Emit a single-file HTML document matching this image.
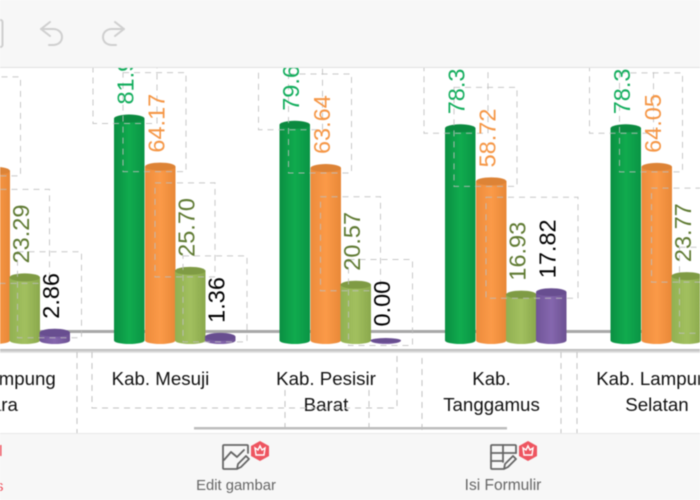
<!DOCTYPE html>
<html>
<head>
<meta charset="utf-8">
<title>Bar chart</title>
<style>
html,body{margin:0;padding:0;background:#fff;}
#stage{position:relative;width:700px;height:500px;overflow:hidden;background:#fff;}
svg{position:absolute;left:0;top:0;filter:blur(0.45px);}
text{font-family:"Liberation Sans",sans-serif;}
</style>
</head>
<body>
<div id="stage">
<svg id="chart" width="700" height="500" viewBox="0 0 700 500" xmlns="http://www.w3.org/2000/svg">
  <defs>
    <linearGradient id="g-green" x1="0" x2="1" y1="0" y2="0"><stop offset="0" stop-color="#0a8f42"/><stop offset=".5" stop-color="#10ab4e"/><stop offset="1" stop-color="#0a9445"/></linearGradient>
    <linearGradient id="g-orange" x1="0" x2="1" y1="0" y2="0"><stop offset="0" stop-color="#ec8b3c"/><stop offset=".5" stop-color="#fb9a48"/><stop offset="1" stop-color="#e88838"/></linearGradient>
    <linearGradient id="g-olive" x1="0" x2="1" y1="0" y2="0"><stop offset="0" stop-color="#91b052"/><stop offset=".5" stop-color="#a2c05f"/><stop offset="1" stop-color="#8aa84c"/></linearGradient>
    <linearGradient id="g-purple" x1="0" x2="1" y1="0" y2="0"><stop offset="0" stop-color="#705598"/><stop offset=".5" stop-color="#8567ae"/><stop offset="1" stop-color="#6c5192"/></linearGradient>
    <linearGradient id="g-floor" x1="0" x2="0" y1="0" y2="1"><stop offset="0" stop-color="#b4b4b4"/><stop offset="1" stop-color="#ececec"/></linearGradient>
  </defs>

  <g id="plot">
    <rect x="0" y="330" width="700" height="3" fill="#a8a8a8"/>
    <rect x="0" y="349" width="700" height="4" fill="url(#g-floor)"/>
  </g>
  <g id="bars"></g>
  <g id="boxes-over"></g>
  <g id="values"></g>
  <g id="cats"></g>

  <g fill="none" stroke="#c2c2c2" stroke-width="1" stroke-dasharray="6 5">
    <path d="M77 352V433"/>
    <path d="M92 352V408H397V352"/>
    <path d="M285 390V433"/>
    <path d="M369 390V433"/>
    <path d="M422 358V433"/>
    <path d="M561 352V433"/>
    <path d="M577 352V433"/>
  </g>
  <rect x="194" y="427" width="313" height="2.5" fill="#bdbdbd"/>

  <g>
    <rect x="0" y="0" width="700" height="67" fill="#f7f7f7"/>
    <rect x="0" y="67" width="700" height="1" fill="#e2e2e2"/>
    <rect x="-8" y="20" width="10.5" height="27" rx="2" fill="none" stroke="#cfcfcf" stroke-width="2"/>
    <g fill="none" stroke="#cfcfcf" stroke-width="2" stroke-linecap="round" stroke-linejoin="round">
      <path d="M50 22L41 29L50 36"/>
      <path d="M41 29H53C59 29 62 33 62 37C62 42 58 45 53 45H49"/>
    </g>
    <g fill="none" stroke="#cfcfcf" stroke-width="2" stroke-linecap="round" stroke-linejoin="round">
      <path d="M115 22L124 29L115 36"/>
      <path d="M124 29H112C106 29 103 33 103 37C103 42 107 45 112 45H116"/>
    </g>
  </g>

  <g>
    <rect x="0" y="433" width="700" height="67" fill="#f7f7f7"/>
    <rect x="0" y="433" width="700" height="1" fill="#e8e8e8"/>
    <rect x="0" y="445" width="1.5" height="11" fill="#ee5560"/>
    <text x="-4" y="491" font-size="15" fill="#ee5560">s</text>

    <g>
      <g fill="none" stroke="#666" stroke-width="1.8" stroke-linejoin="round" stroke-linecap="round">
        <path d="M236 469H224Q223 469 223 468V446Q223 445 224 445H247Q248 445 248 446V453"/>
        <path d="M224 460L231 452L237 457L244 450"/>
        <path d="M237 469L238 464L246 456L249 459L241 467Z"/>
      </g>
      <polygon points="260,441 269,446 269,456 260,461 251,456 251,446" fill="#ee5560"/>
      <path d="M255 448L258 450L260 446L262 450L265 448L264 455H256Z" fill="none" stroke="#fff" stroke-width="1.4"/>
      <text x="236" y="490" font-size="14.8" fill="#666" text-anchor="middle">Edit gambar</text>
    </g>

    <g>
      <g fill="none" stroke="#666" stroke-width="1.8" stroke-linejoin="round" stroke-linecap="round">
        <path d="M503 469H492Q491 469 491 468V446Q491 445 492 445H515Q516 445 516 446V453"/>
        <path d="M491 453H516M503 445V462M491 461H503"/>
        <path d="M504 469L505 464L513 456L516 459L508 467Z"/>
      </g>
      <polygon points="528,441 537,446 537,456 528,461 519,456 519,446" fill="#ee5560"/>
      <path d="M523 448L526 450L528 446L530 450L533 448L532 455H524Z" fill="none" stroke="#fff" stroke-width="1.4"/>
      <text x="503" y="490" font-size="15.5" fill="#666" text-anchor="middle">Isi Formulir</text>
    </g>
  </g>
</svg>
</div>
<script>
var categories = [["Kab. Lampung","Utara"],["Kab. Mesuji"],["Kab. Pesisir","Barat"],["Kab.","Tanggamus"],["Kab. Lampung","Selatan"]];
var greenValues = [78.3, 81.9, 79.6, 78.3, 78.3];
var orangeValues = [62.6, 64.17, 63.64, 58.72, 64.05];
var oliveValues = [23.29, 25.70, 20.57, 16.93, 23.77];
var purpleValues = [2.86, 1.36, 0.00, 17.82, 4.5];

var NS = 'http://www.w3.org/2000/svg';
var baseY = 340.5;
var unit = 2.71;
var firstGroupX = -51.5;
var groupStep = 165.5;
var barW = 30.5;
function yScale(v){ return baseY - v * unit; }
function groupX(i){ return firstGroupX + i * groupStep; }

var seriesList = [
  {key:'green', values:greenValues, offset:0, grad:'url(#g-green)', top:'#0b8a40', text:'#12ad5c', digits:1, boxL:-21, boxR:43, boxUp:300, boxDown:5},
  {key:'orange', values:orangeValues, offset:31, grad:'url(#g-orange)', top:'#dd8336', text:'#f59645', digits:2, boxL:-22, boxR:41, boxUp:94, boxDown:5},
  {key:'olive', values:oliveValues, offset:61, grad:'url(#g-olive)', top:'#7f9b44', text:'#5f7a32', digits:2, boxL:-20, boxR:40, boxUp:88, boxDown:6},
  {key:'purple', values:purpleValues, offset:91, grad:'url(#g-purple)', top:'#684e90', text:'#000000', digits:2, boxL:-22, boxR:42, boxUp:81, boxDown:5}
];

var barsG = document.getElementById('bars');
var boxOver = document.getElementById('boxes-over');
var valuesG = document.getElementById('values');
var catsG = document.getElementById('cats');

function mk(tag, attrs, parent){
  var el = document.createElementNS(NS, tag);
  for (var k in attrs) el.setAttribute(k, attrs[k]);
  parent.appendChild(el);
  return el;
}

seriesList.forEach(function(s){
  s.values.forEach(function(v, i){
    var x = groupX(i) + s.offset;
    var yTop = yScale(v);
    var g = mk('g', {}, barsG);
    
    
    var cx = x + barW / 2;
    mk('path', {d:'M' + x + ' ' + yTop + 'V' + baseY + 'A' + (barW/2) + ' 3.5 0 0 0 ' + (x + barW) + ' ' + baseY + 'V' + yTop + 'Z', fill:s.grad}, g);
    mk('ellipse', {cx:cx, cy:yTop, rx:barW/2, ry:v < 0.5 ? 2.5 : 4, fill:s.top}, g);

    var isMerged = s.key === 'purple' && v > 15;
    if (s.key === 'olive' && oliveValues[i] < 18 && purpleValues[i] > 15) return;
    var bl = x + s.boxL - (isMerged ? 28 : 0);
    var br = x + s.boxR;
    var bt = yTop - s.boxUp + (isMerged ? -14 : 0);
    var bb = yTop + s.boxDown + (isMerged ? 1 : 0);
    var rect = mk('rect', {x:bl, y:bt, width:br - bl, height:bb - bt, fill:'none', stroke:'#bdbdbd', 'stroke-width':1, 'stroke-dasharray':'6 5', opacity:0.85}, boxOver);
    
    
  });
});

seriesList.forEach(function(s){
  s.values.forEach(function(v, i){
    var x = groupX(i) + s.offset;
    var yTop = yScale(v);
    var t = mk('text', {
      transform:'translate(' + (x + 19.5) + ',' + (yTop - 14) + ') rotate(-90)',
      'font-size':23.5,
      fill:s.text
    }, valuesG);
    t.textContent = v.toFixed(s.digits);
    
    
  });
});

categories.forEach(function(lines, i){
  var cx = groupX(i) + 46.5;
  lines.forEach(function(line, j){
    var t = mk('text', {x:cx, y:385 + j * 26, 'text-anchor':'middle', 'font-size':18.7, fill:'#111'}, catsG);
    t.textContent = line;
    
    
  });
});
</script>
</body>
</html>
